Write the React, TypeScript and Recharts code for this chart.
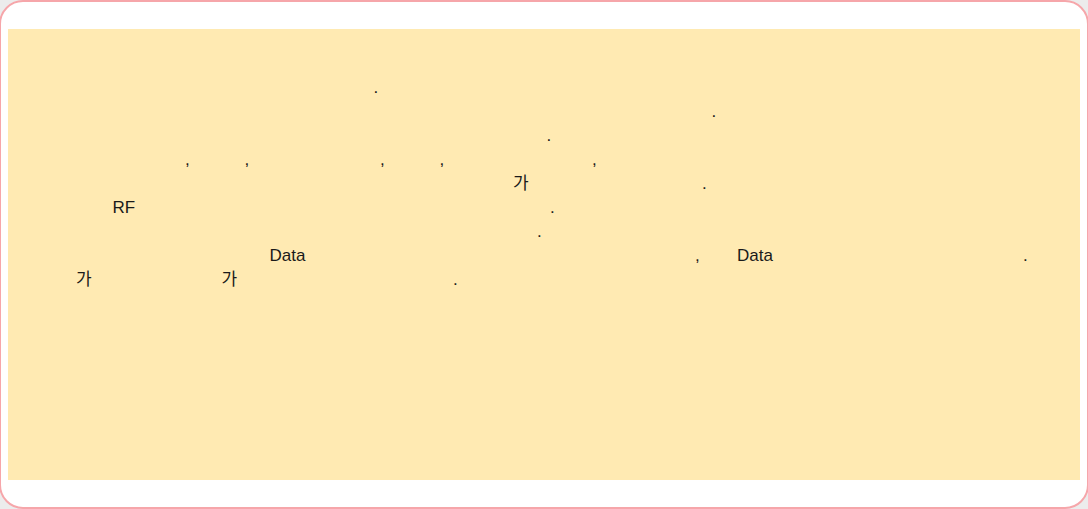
import React from 'react';
import { ScatterChart, Scatter, XAxis, YAxis } from 'recharts';

// visible glyphs of the note panel (the Hangul text around them did not render)
const fragmentText = [
    '.',
    '.',
    '.',
    ',', ',', ',', ',', ',',
    '가', '.',
    'RF', '.',
    '.',
    'Data', ',', 'Data', '.',
    '가', '가', '.',
];
// which text line each fragment sits on
const fragmentLine = [
    1,
    2,
    3,
    4, 4, 4, 4, 4,
    5, 5,
    6, 6,
    7,
    8, 8, 8, 8,
    9, 9, 9,
];
// horizontal offset of each fragment along its line
const fragmentPos = [
    373.5,
    711.5,
    546.5,
    185, 244.5, 380, 439.5, 592,
    513, 702,
    112.5, 550,
    537,
    269.5, 695, 737, 1023,
    76, 221.5, 453,
];

const fragments = fragmentText.map((text, i) => ({
    text,
    line: fragmentLine[i],
    pos: fragmentPos[i],
}));

const FONT = "'Liberation Sans', Arial, 'Noto Sans CJK KR', sans-serif";

const Glyph = (props: any) => {
    const { cx, cy, payload } = props;
    return (
        <text x={cx} y={cy} fontSize={17} fontFamily={FONT} fill="#1a1a1a" textAnchor="start">
            {payload.text}
        </text>
    );
};

const App: React.FC = () => {
    return (
        <div style={{ position: 'fixed', top: 0, left: 0, width: 1088, height: 509, background: '#ececec', overflow: 'hidden' }}>
            <div
                style={{
                    position: 'absolute', left: -1, top: 0, width: 1090, height: 509,
                    boxSizing: 'border-box', border: '2px solid #f6a6aa', borderRadius: 24, background: '#ffffff',
                }}
            />
            <div style={{ position: 'absolute', left: 8, top: 29, width: 1072, height: 451, background: '#ffeab2' }} />
            <div style={{ position: 'absolute', left: 0, top: 0 }}>
                <ScatterChart width={1088} height={509} margin={{ top: 93, right: 0, bottom: 224, left: 0 }}>
                    <XAxis type="number" dataKey="pos" domain={[0, 1088]} hide />
                    <YAxis type="number" dataKey="line" domain={[1, 9]} reversed hide />
                    <Scatter data={fragments} shape={Glyph} isAnimationActive={false} />
                </ScatterChart>
            </div>
        </div>
    );
};

export default App;
